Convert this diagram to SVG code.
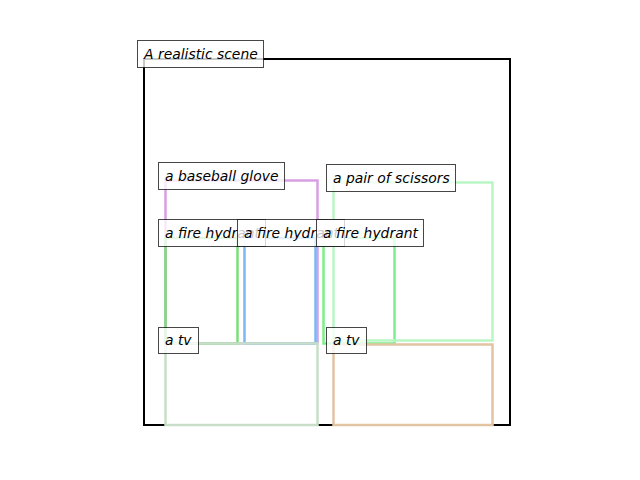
<svg xmlns="http://www.w3.org/2000/svg" width="640" height="480" viewBox="0 0 640 480">
<style>
.bb{fill:none;stroke-width:2.5}
.lb{fill:#fff;fill-opacity:0.78;stroke:#000;stroke-opacity:0.72;stroke-width:1}
.lt{font-family:"DejaVu Sans",sans-serif;font-style:italic;font-size:13.9px;fill:#000}
</style>
<rect width="640" height="480" fill="#fff"/>
<g id="scene">
<rect x="144" y="59" width="366" height="366" fill="none" stroke="#000" stroke-width="2"/>
</g>
<g id="boxes">
<g id="baseball-glove-box"><rect class="bb" x="165.5" y="180.5" width="152" height="163" stroke="#d8a0e4"/></g>
<g id="fire-hydrant-1-box"><rect class="bb" x="165.5" y="238" width="72" height="105.5" stroke="#7ade7a" stroke-width="3"/></g>
<g id="fire-hydrant-2-box"><rect class="bb" x="244.5" y="238" width="71" height="105.5" stroke="#7ab8f6" stroke-width="3"/></g>
<g id="fire-hydrant-3-box"><rect class="bb" x="323.5" y="238" width="71" height="105.5" stroke="#7cf08c" stroke-width="3"/></g>
<g id="scissors-box"><rect class="bb" x="333.5" y="182.5" width="159" height="158" stroke="#b8f6c4"/></g>
<g id="tv-1-box"><rect class="bb" x="165.5" y="343.5" width="152" height="81.5" stroke="#c8dec8"/></g>
<g id="tv-2-box"><rect class="bb" x="333.5" y="344.5" width="159" height="80.5" stroke="#e2c4a2"/></g>
</g>
<g id="connectors"></g>
<g id="labels">
<g id="title"><rect class="lb" x="137.5" y="40.5" width="126" height="27"/><text class="lt" x="144" y="59">A realistic scene</text></g>
<g id="baseball-glove"><rect class="lb" x="158.5" y="162.5" width="126" height="27"/><text class="lt" x="165" y="181">a baseball glove</text></g>
<g id="scissors"><rect class="lb" x="326.5" y="164.5" width="129" height="27"/><text class="lt" x="333" y="183">a pair of scissors</text></g>
<g id="fire-hydrant-1"><rect class="lb" x="158.5" y="219.5" width="107" height="27"/><text class="lt" x="165" y="238">a fire hydrant</text></g>
<g id="fire-hydrant-2"><rect class="lb" x="237.5" y="219.5" width="107" height="27"/><text class="lt" x="244" y="238">a fire hydrant</text></g>
<g id="fire-hydrant-3"><rect class="lb" x="316.5" y="219.5" width="107" height="27"/><text class="lt" x="323" y="238">a fire hydrant</text></g>
<g id="tv-1"><rect class="lb" x="158.5" y="327.5" width="40" height="26"/><text class="lt" x="165" y="345">a tv</text></g>
<g id="tv-2"><rect class="lb" x="326.5" y="327.5" width="40" height="26"/><text class="lt" x="333" y="345">a tv</text></g>
</g>
</svg>
